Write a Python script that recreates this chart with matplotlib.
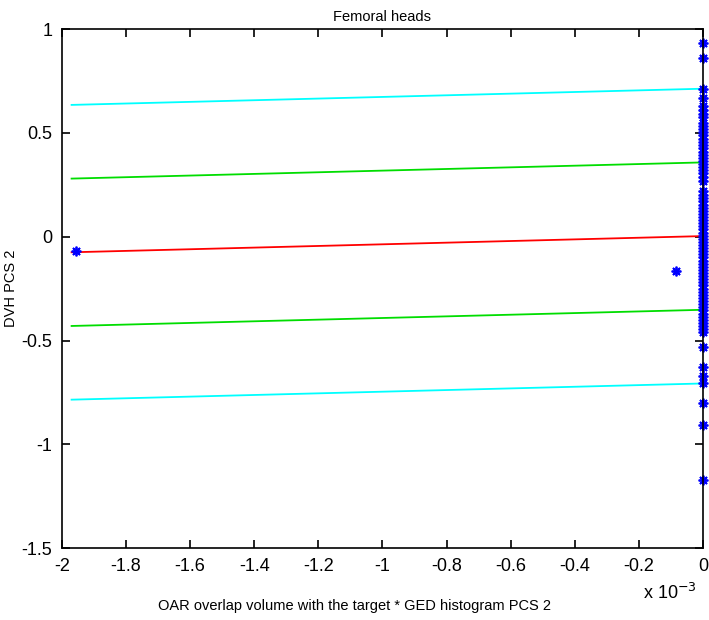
import matplotlib
matplotlib.use("Agg")
import matplotlib.pyplot as plt
import numpy as np

plt.rcParams['font.family'] = ['Liberation Sans', 'DejaVu Sans']

# regression line and prediction bands (x in units of 1e-3)
fit_x = [-1.97, 0.0]
fit_y = [-0.075, 0.003]
inner_band = 0.355
outer_band = 0.71

# scattered patients
pts_x = [-1.955, -0.085]
pts_y = [-0.067, -0.165]

# patients with zero overlap (x = 0)
zero_y = [0.935, 0.862, 0.71, 0.668, 0.632, 0.61, 0.59, 0.575, 0.55, 0.535,
          0.52, 0.505, 0.49, 0.47, 0.455, 0.44, 0.425, 0.41, 0.395, 0.38,
          0.365, 0.35, 0.335, 0.32, 0.305, 0.29, 0.27, 0.22, 0.2, 0.185,
          0.17, 0.155, 0.14, 0.125, 0.11, 0.095, 0.08, 0.065, 0.05, 0.035,
          0.02, 0.005, -0.01, -0.025, -0.04, -0.055, -0.07, -0.085, -0.1,
          -0.115, -0.13, -0.145, -0.16, -0.175, -0.19, -0.205, -0.22, -0.235,
          -0.25, -0.265, -0.28, -0.295, -0.31, -0.325, -0.34, -0.355, -0.37,
          -0.385, -0.4, -0.415, -0.43, -0.445, -0.46, -0.53, -0.627, -0.67,
          -0.707, -0.80, -0.907, -1.17]

fig = plt.figure(figsize=(7.09, 6.2), dpi=100)
ax = fig.add_axes([0.0874, 0.116, 0.904, 0.837])

fx = np.array(fit_x) * 1e-3
fy = np.array(fit_y)
ax.plot(fx, fy + outer_band, color='cyan', lw=1.3)
ax.plot(fx, fy + inner_band, color='#00dd00', lw=1.3)
ax.plot(fx, fy, color='red', lw=1.3)
ax.plot(fx, fy - inner_band, color='#00dd00', lw=1.3)
ax.plot(fx, fy - outer_band, color='cyan', lw=1.3)

star = (8, 2, 0)
ax.plot(np.array(pts_x) * 1e-3, pts_y, ls='none', marker=star, ms=7,
        mec='blue', mew=1.3)
ax.plot(np.zeros(len(zero_y)), zero_y, ls='none', marker=star, ms=7,
        mec='blue', mew=1.3, clip_on=False)

ax.set_xlim(-2e-3, 0)
ax.set_ylim(-1.5, 1)
ax.set_xticks(np.arange(-2, 0.01, 0.2) * 1e-3)
ax.set_xticklabels(['-2', '-1.8', '-1.6', '-1.4', '-1.2', '-1', '-0.8',
                    '-0.6', '-0.4', '-0.2', '0'])
ax.set_yticks([-1.5, -1, -0.5, 0, 0.5, 1])
ax.set_yticklabels(['-1.5', '-1', '-0.5', '0', '0.5', '1'])
ax.tick_params(direction='in', top=True, right=True, labelsize=13, length=6,
               width=1.2, pad=7)
for s in ax.spines.values():
    s.set_linewidth(1.2)

fig.text(0.983, 0.044, r'x 10$^{-3}$', ha='right', va='center', fontsize=13)
ax.set_title('Femoral heads', fontsize=10.5, pad=6)
fig.text(0.015, 0.535, 'DVH PCS 2', rotation=90, ha='center', va='center',
         fontsize=10.5)
fig.text(0.5, 0.022, 'OAR overlap volume with the target * GED histogram PCS 2',
         ha='center', va='center', fontsize=10.5)

fig.savefig('out.png', dpi=100)
